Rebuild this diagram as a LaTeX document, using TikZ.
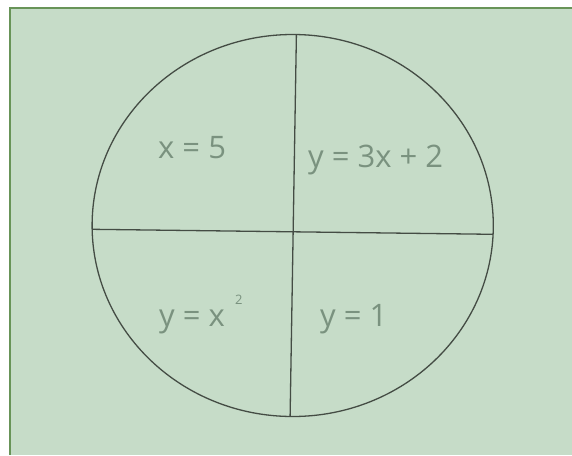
\documentclass[tikz,border=0pt]{standalone}
\usepackage{fontspec}
\newfontfamily\hand{Open Sans}
\definecolor{paper}{RGB}{198,220,200}
\definecolor{rim}{RGB}{104,148,88}
\definecolor{pencil}{RGB}{68,76,68}
\definecolor{chalk}{RGB}{122,146,127}
\newcommand\squared{\raisebox{22pt}{\fontsize{13}{13}\selectfont 2}}
\tikzset{
  sheet/.style={
    fill = paper
  },
  rim/.style={
    draw = rim,
    line width = 1.6pt
  },
  disc/.style={
    draw = pencil,
    line width = 1.3pt
  },
  cut/.style={
    draw = pencil,
    line width = 1.3pt
  },
  eqn/.style={
    anchor = base west,
    text = chalk,
    font = \hand\fontsize{31}{33}\selectfont,
    inner sep = 0pt
  }
}
\begin{document}
\begin{tikzpicture}[x=1pt,y=-1pt]
    \useasboundingbox (0,0) rectangle (572,455);
    \fill[white] (0,0) rectangle (572,455);
    \fill[sheet] (10,8) rectangle (572,455);
    \draw[rim] (572,8) -- (10,8) -- (10,455);

    % the circle and its two cuts
    \draw[disc] (292.7,225.5) ellipse [x radius=200.6, y radius=191];
    \coordinate (cutN) at (296.4,34.5);
    \coordinate (cutS) at (290.1,416.5);
    \coordinate (cutW) at (92.3,229.3);
    \coordinate (cutE) at (492.9,234.3);
    \draw[cut] (cutN) -- (cutS);
    \draw[cut] (cutW) -- (cutE);

    % one equation in each quarter
    \node[eqn] (qNW) at (158,158) {x = 5};
    \node[eqn] (qNE) at (308,167) {y = 3x + 2};
    \node[eqn] (qSW) at (159,326) {y = x\,\,\squared};
    \node[eqn] (qSE) at (320,326) {y = 1};
\end{tikzpicture}
\end{document}
